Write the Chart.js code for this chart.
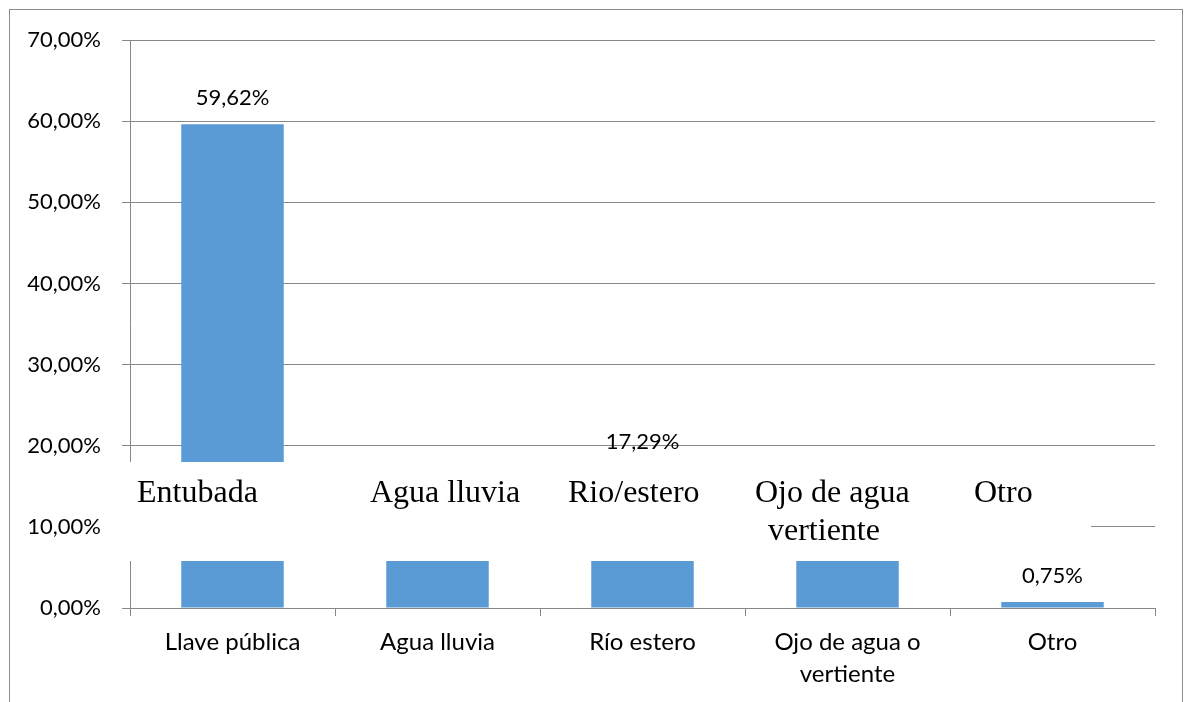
<!DOCTYPE html>
<html><head><meta charset="utf-8">
<script src="https://cdn.jsdelivr.net/npm/chart.js@4.4.1/dist/chart.umd.min.js"></script>
<style>
html,body{margin:0;padding:0;background:#fff;overflow:hidden;}
#frame{position:absolute;left:9px;top:9px;width:1174px;height:720px;border:1px solid #8c8c8c;box-sizing:border-box;}
#wrap{position:absolute;left:0;top:0;width:1184px;height:702px;}
</style></head><body>
<div id="frame"></div>
<div id="wrap"><canvas id="c" width="1184" height="702"></canvas></div>
<script>
const categories = [['Llave pública'], ['Agua lluvia'], ['Río estero'], ['Ojo de agua o', 'vertiente'], ['Otro']];
const values = [59.62, 11.65, 17.29, 10.69, 0.75];
const yTickLabels = ['0,00%', '10,00%', '20,00%', '30,00%', '40,00%', '50,00%', '60,00%', '70,00%'];
const overlayLabels = [['Entubada'], ['Agua lluvia'], ['Rio/estero'], ['Ojo de agua', 'vertiente'], ['Otro']];

const GRID = '#888888';
const SANS = 'Lato';

const valueLabels = {
  id: 'valueLabels',
  afterDatasetsDraw(chart) {
    const ctx = chart.ctx;
    const meta = chart.getDatasetMeta(0);
    ctx.save();
    ctx.font = '22px ' + SANS;
    ctx.fillStyle = '#000';
    ctx.textAlign = 'center';
    ctx.textBaseline = 'alphabetic';
    meta.data.forEach((bar, i) => {
      const txt = values[i].toFixed(2).replace('.', ',') + '%';
      ctx.fillText(txt, bar.x, bar.y - 19);
    });
    ctx.restore();
  }
};

const overlay = {
  id: 'overlay',
  afterDraw(chart) {
    const ctx = chart.ctx;
    ctx.save();
    ctx.fillStyle = '#fff';
    ctx.fillRect(112, 462, 1091 - 112, 561 - 462);
    ctx.fillStyle = '#000';
    ctx.font = '32px "Liberation Serif"';
    ctx.textAlign = 'left';
    ctx.textBaseline = 'alphabetic';
    const xs = [[137], [370], [568], [755, 768], [974]];
    overlayLabels.forEach((lines, i) => {
      lines.forEach((t, j) => ctx.fillText(t, xs[i][j], 502 + j * 38));
    });
    ctx.restore();
  }
};

new Chart(document.getElementById('c'), {
  type: 'bar',
  data: {
    labels: categories,
    datasets: [{
      data: values,
      backgroundColor: '#5B9BD5',
      borderWidth: 0,
      barPercentage: 0.5,
      categoryPercentage: 1.0
    }]
  },
  options: {
    responsive: false,
    animation: false,
    devicePixelRatio: 1,
    layout: { padding: { top: 40, right: 29, left: 0, bottom: 0 } },
    plugins: { legend: { display: false }, tooltip: { enabled: false } },
    scales: {
      x: {
        grid: { offset: true, drawOnChartArea: false, drawTicks: true, tickLength: 8, color: GRID },
        border: { color: GRID },
        ticks: { font: { family: SANS, size: 24, lineHeight: 1.33 }, color: '#000', padding: 10, maxRotation: 0, autoSkip: false },
        afterFit(s) { s.height = 94; }
      },
      y: {
        min: 0, max: 70,
        grid: { color: GRID, tickLength: 8 },
        border: { color: GRID },
        ticks: { stepSize: 10, font: { family: SANS, size: 22 }, color: '#000', padding: 21,
          callback: (v, i) => yTickLabels[i] },
        afterFit(s) { s.width = 130; }
      }
    }
  },
  plugins: [valueLabels, overlay]
});
</script>
</body></html>
